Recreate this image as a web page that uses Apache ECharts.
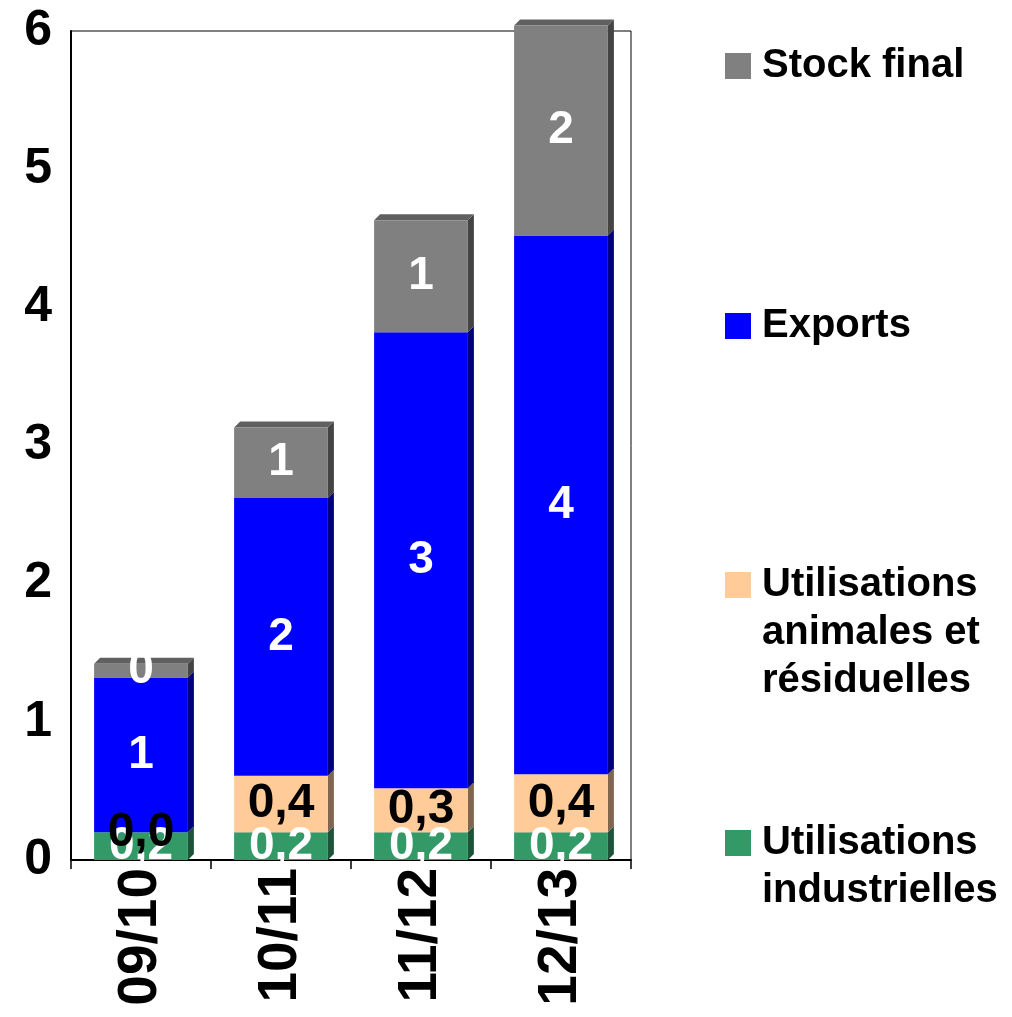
<!DOCTYPE html>
<html>
<head>
<meta charset="utf-8">
<script src="https://cdn.jsdelivr.net/npm/echarts@6/dist/echarts.min.js"></script>
<style>
html,body{margin:0;padding:0;background:#fff;}
#chart{width:1012px;height:1017px;}
</style>
</head>
<body>
<div id="chart"></div>
<script>
const categories = ['09/10', '10/11', '11/12', '12/13'];
const industrielles = [0.2, 0.2, 0.2, 0.2];
const animales = [0.0, 0.41, 0.32, 0.42];
const exportsVals = [1.12, 2.01, 3.30, 3.90];
const stockFinal = [0.10, 0.51, 0.81, 1.52];
const yTicks = [0, 1, 2, 3, 4, 5, 6];

const seriesNames = ['Utilisations industrielles', 'Utilisations animales et résiduelles', 'Exports', 'Stock final'];
const seriesData = [industrielles, animales, exportsVals, stockFinal];
const frontColors = ['#339966', '#FFCC99', '#0000FF', '#808080'];
const sideColors = ['#1d5439', '#806650', '#000080', '#444444'];
const topColor = '#606060';
const labelColors = ['#ffffff', '#000000', '#ffffff', '#ffffff'];
const labelSizes = [46, 48, 46, 46];
const labelFormat = [
  v => v.toFixed(1).replace('.', ','),
  v => v.toFixed(1).replace('.', ','),
  v => String(Math.round(v)),
  v => String(Math.round(v))
];
const FONT = 'Arial, "Liberation Sans", sans-serif';
const BAR_FRAC = 0.67;
const DEPTH = 6;

const barSeries = seriesData.map((arr, s) => ({
  name: seriesNames[s],
  type: 'bar',
  stack: 'total',
  barWidth: (BAR_FRAC * 100) + '%',
  clip: false,
  z: 3,
  itemStyle: { color: frontColors[s] },
  label: {
    show: true,
    position: 'inside',
    color: labelColors[s],
    fontSize: labelSizes[s],
    fontWeight: 'bold',
    fontFamily: FONT,
    formatter: p => labelFormat[s](p.value)
  },
  data: arr
}));

const depthSeries = {
  type: 'custom',
  clip: false,
  z: 2,
  silent: true,
  data: categories.map((c, i) => [i]),
  renderItem: function (params, api) {
    const i = api.value(0);
    const w = api.size([1, 0])[0] * BAR_FRAC;
    const cx = api.coord([i, 0])[0];
    const x0 = cx - w / 2, x1 = cx + w / 2;
    const children = [];
    let cum = 0;
    let topIdx = -1;
    for (let s = 0; s < seriesData.length; s++) if (seriesData[s][i] > 0) topIdx = s;
    for (let s = 0; s < seriesData.length; s++) {
      const v = seriesData[s][i];
      const yb = api.coord([i, cum])[1];
      cum += v;
      const yt = api.coord([i, cum])[1];
      if (v > 0) {
        children.push({
          type: 'polygon',
          shape: { points: [[x1, yb], [x1, yt], [x1 + DEPTH, yt - DEPTH], [x1 + DEPTH, yb - DEPTH]] },
          style: { fill: sideColors[s] }
        });
      }
      if (s === topIdx) {
        children.push({
          type: 'polygon',
          shape: { points: [[x0, yt], [x1, yt], [x1 + DEPTH, yt - DEPTH], [x0 + DEPTH, yt - DEPTH]] },
          style: { fill: topColor }
        });
      }
    }
    return { type: 'group', children: children };
  }
};

// Multi-line legend labels: blank lines are prepended so that the
// first text line sits level with the legend square.
function legendFor(name, lines, top) {
  const LH = 48;
  const pad = [];
  for (let k = 1; k < lines.length; k++) pad.push(' ');
  const text = pad.concat(lines).join('\n');
  return {
    data: [name],
    left: 725,
    top: top,
    padding: 0,
    icon: 'rect',
    itemWidth: 26,
    itemHeight: 26,
    itemGap: 0,
    selectedMode: false,
    formatter: () => text,
    textStyle: {
      fontSize: 40,
      fontWeight: 'bold',
      fontFamily: FONT,
      color: '#000',
      lineHeight: LH,
      padding: [0, 0, 0, 6]
    }
  };
}

const option = {
  backgroundColor: '#ffffff',
  animation: false,
  grid: {
    left: 71, right: 381, top: 31, bottom: 157,
    show: true, borderColor: '#000', borderWidth: 1
  },
  legend: [
    legendFor('Stock final', ['Stock final'], 42),
    legendFor('Exports', ['Exports'], 302),
    legendFor('Utilisations animales et résiduelles', ['Utilisations', 'animales et', 'résiduelles'], 465),
    legendFor('Utilisations industrielles', ['Utilisations', 'industrielles'], 771)
  ],
  xAxis: {
    type: 'category',
    data: categories,
    axisLine: { show: true, lineStyle: { color: '#000', width: 2 } },
    axisTick: { show: true, length: 9, lineStyle: { color: '#000', width: 1.5 } },
    axisLabel: {
      rotate: 90,
      margin: 8,
      color: '#000',
      fontSize: 55,
      fontWeight: 'bold',
      fontFamily: FONT
    }
  },
  yAxis: {
    type: 'value',
    min: yTicks[0],
    max: yTicks[yTicks.length - 1],
    interval: 1,
    axisLine: { show: true, lineStyle: { color: '#000', width: 2 } },
    axisTick: { show: false },
    splitLine: { show: false },
    axisLabel: {
      margin: 19,
      color: '#000',
      fontSize: 50,
      fontWeight: 'bold',
      fontFamily: FONT
    }
  },
  series: [depthSeries].concat(barSeries)
};

const chart = echarts.init(document.getElementById('chart'), null, { renderer: 'canvas' });
chart.setOption(option);
</script>
</body>
</html>
